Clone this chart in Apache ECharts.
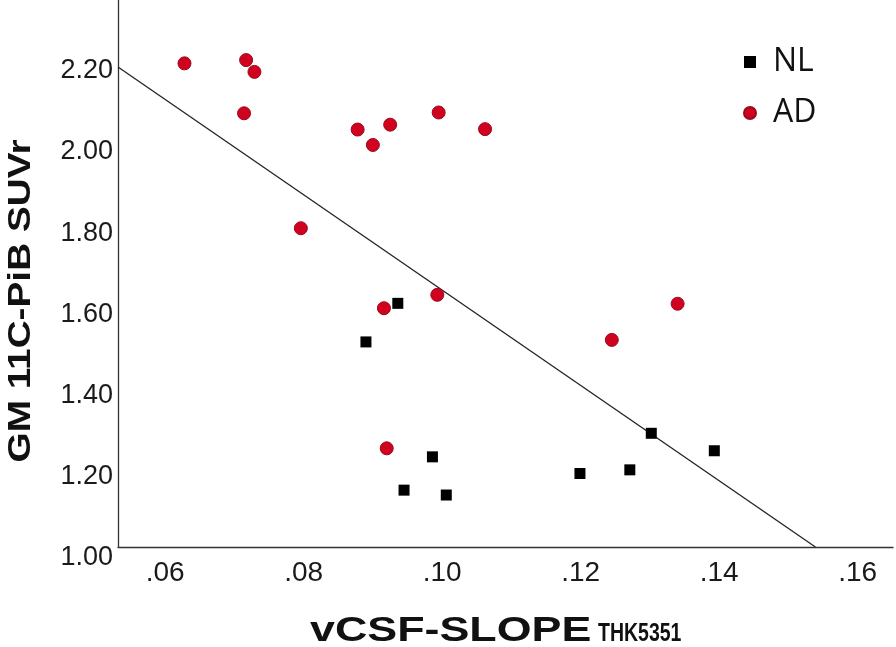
<!DOCTYPE html>
<html>
<head>
<meta charset="utf-8">
<script src="https://cdn.jsdelivr.net/npm/echarts@6/dist/echarts.min.js"></script>
<style>
  html, body { margin: 0; padding: 0; background: #fff; }
  #chart { width: 896px; height: 647px; }
</style>
</head>
<body>
<div id="chart"></div>
<script>
// ---- Data ----
const nlX = [0.0936, 0.0890, 0.0986, 0.0945, 0.1006, 0.1199, 0.1271, 0.1302, 0.1393];
const nlY = [1.600, 1.505, 1.222, 1.140, 1.128, 1.181, 1.190, 1.280, 1.237];

const adX = [0.0628, 0.0717, 0.0729, 0.0714, 0.0878, 0.0900, 0.0925, 0.0995, 0.1062,
             0.0796, 0.0916, 0.0993, 0.1245, 0.1340, 0.0920];
const adY = [2.191, 2.199, 2.170, 2.068, 2.028, 1.990, 2.040, 2.070, 2.029,
             1.785, 1.588, 1.621, 1.510, 1.599, 1.243];

// fitted regression line end points
const fitX = [0.0532, 0.1539];
const fitY = [2.182, 1.000];

const xTicks = [0.06, 0.08, 0.10, 0.12, 0.14, 0.16];
const yTicks = [1.00, 1.20, 1.40, 1.60, 1.80, 2.00, 2.20];

const seriesNames = ['NL', 'AD'];
const xTitle = 'vCSF-SLOPE';
const xTitleSub = 'THK5351';
const yTitle = 'GM 11C-PiB SUVr';

// ---- Build ----
const zip = (a, b) => a.map((v, i) => [v, b[i]]);

const chart = echarts.init(document.getElementById('chart'), null, { renderer: 'canvas' });

const option = {
  animation: false,
  backgroundColor: '#ffffff',
  grid: { left: 118, right: 3, top: 0, bottom: 100 },
  xAxis: {
    type: 'value',
    min: 0.0532,
    max: 0.1651,
    splitNumber: 5,
    minInterval: 0.02,
    maxInterval: 0.02,
    axisLine: { show: true, onZero: false, lineStyle: { color: '#333', width: 1.3 } },
    axisTick: { show: false },
    splitLine: { show: false },
    axisLabel: {
      showMinLabel: false,
      showMaxLabel: false,
      margin: 12,
      fontFamily: 'Liberation Sans, Arial, sans-serif',
      fontSize: 28,
      color: '#1a1a1a',
      formatter: v => {
        const t = xTicks.find(k => Math.abs(k - v) < 1e-6);
        return t === undefined ? '' : t.toFixed(2).replace(/^0/, '');
      }
    }
  },
  yAxis: {
    type: 'value',
    min: 1.0,
    max: 2.347,
    interval: 0.2,
    axisLine: { show: true, onZero: false, lineStyle: { color: '#333', width: 1.3 } },
    axisTick: { show: false },
    splitLine: { show: false },
    axisLabel: {
      showMaxLabel: false,
      margin: 5,
      fontFamily: 'Liberation Sans, Arial, sans-serif',
      fontSize: 27,
      color: '#1a1a1a',
      verticalAlign: 'top',
      lineHeight: 22,
      formatter: v => {
        const t = yTicks.find(k => Math.abs(k - v) < 1e-6);
        return t === undefined ? '' : t.toFixed(2);
      }
    }
  },
  legend: {
    orient: 'vertical',
    left: 738,
    top: 37,
    itemWidth: 12,
    itemHeight: 12,
    itemGap: 11,
    data: [
      { name: seriesNames[0], icon: 'rect' },
      { name: seriesNames[1], icon: 'circle' }
    ],
    textStyle: {
      fontFamily: 'Open Sans, Noto Sans, sans-serif',
      fontSize: 32,
      color: '#111',
      lineHeight: 40,
      padding: [0, 0, 0, 12]
    }
  },
  graphic: [
    {
      type: 'text',
      x: 21, y: 301,
      rotation: Math.PI / 2,
      scaleX: 1.25,
      style: {
        text: yTitle,
        fontFamily: 'Liberation Sans, Arial, sans-serif',
        fontWeight: 'bold',
        fontSize: 31,
        fill: '#111',
        align: 'center',
        verticalAlign: 'middle'
      }
    },
    {
      type: 'text',
      x: 310, y: 631,
      scaleX: 1.28,
      style: {
        text: xTitle,
        fontFamily: 'Liberation Sans, Arial, sans-serif',
        fontWeight: 'bold',
        fontSize: 35,
        fill: '#111',
        align: 'left',
        verticalAlign: 'middle'
      }
    },
    {
      type: 'text',
      x: 598, y: 634,
      scaleX: 0.75,
      style: {
        text: xTitleSub,
        fontFamily: 'Liberation Sans, Arial, sans-serif',
        fontWeight: 'bold',
        fontSize: 26,
        fill: '#111',
        align: 'left',
        verticalAlign: 'middle'
      }
    }
  ],
  series: [
    {
      name: 'fit',
      type: 'line',
      data: zip(fitX, fitY),
      symbol: 'none',
      silent: true,
      lineStyle: { color: '#222', width: 1.3 },
      z: 1
    },
    {
      name: seriesNames[0],
      type: 'scatter',
      symbol: 'rect',
      symbolSize: 11,
      data: zip(nlX, nlY),
      itemStyle: { color: '#000', opacity: 1 },
      z: 3
    },
    {
      name: seriesNames[1],
      type: 'scatter',
      symbol: 'circle',
      symbolSize: 13,
      data: zip(adX, adY),
      itemStyle: { color: '#d0021f', borderColor: '#9a0a1c', borderWidth: 1, opacity: 1 },
      z: 2
    }
  ]
};

chart.setOption(option);
</script>
</body>
</html>
